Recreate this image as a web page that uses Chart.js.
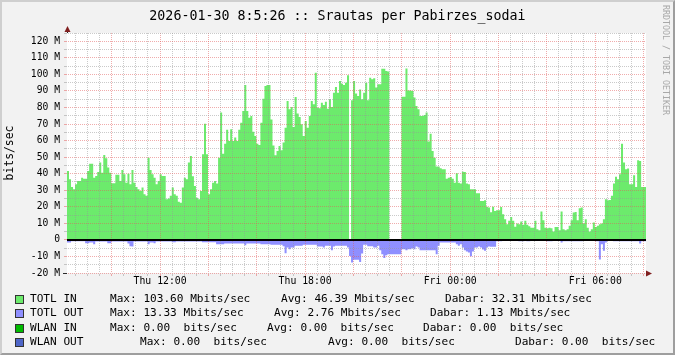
<!DOCTYPE html>
<html><head><meta charset="utf-8">
<script src="https://cdn.jsdelivr.net/npm/chart.js@4.4.1/dist/chart.umd.min.js"></script>
<style>
html,body{margin:0;padding:0;background:#f2f2f2;}
#wrap{position:relative;width:675px;height:355px;overflow:hidden;font-family:"DejaVu Sans Mono",monospace;color:#000;background:#f2f2f2;}
#c{position:absolute;left:0;top:0;}
.t{position:absolute;white-space:pre;}
#title{left:0;width:675px;text-align:center;top:8px;font-size:13.3px;line-height:16px;}
#mark{left:661px;top:5px;writing-mode:vertical-rl;font-size:8.3px;line-height:10px;color:#a8a8a8;}
.sw{position:absolute;width:7px;height:7px;border:1px solid #333;}
.lg{position:absolute;white-space:pre;font-size:11.1px;line-height:14px;}
#frame{position:absolute;left:0;top:0;width:675px;height:355px;box-sizing:border-box;border:2px solid;border-color:#cfcfcf #9e9e9e #9e9e9e #cfcfcf;pointer-events:none;}
</style></head><body>
<div id="wrap">
<canvas id="c" width="675" height="355"></canvas>
<div id="title" class="t">2026-01-30 8:5:26 :: Srautas per Pabirzes_sodai</div>
<div id="mark" class="t">RRDTOOL / TOBI OETIKER</div>
<div id="legend"></div>
<div id="frame"></div>
</div>
<script>
// ---- data (Mbit/s, 5-minute samples starting Thu 08:09) ----
const START_HOUR = 8.15;
const STEP_MINUTES = 5;
const X_MIN = 8.15, X_MAX = 32.1;

const totlIn = [
53,41.6,36.6,32,30.6,33.6,35.6,35.6,37.6,37,
37,41.6,46,46,37.6,38.6,41,46.7,40.6,51.3,
49.3,43.7,40.6,34.2,34.2,39.4,39.4,35.6,42.3,39.6,
34.6,40,33.6,42.3,34.6,32,30.6,29.6,31.6,27.6,
26.6,49.7,42.3,39.6,37.6,33.6,35.6,39.6,38.6,38.6,
24.5,25,26.6,31.6,27.6,26.6,23,22.5,31.6,37.6,
36.6,46.7,50.7,38.4,32.6,25.5,24.5,29.6,51.7,70.2,
51.7,27.6,
30.6,34.6,35.6,34,49.7,76.9,52.1,58.1,66.6,59.8,
66.8,59.8,61.8,59.8,66.6,70.8,77.9,93.6,77.9,73.8,
74.8,65.4,62.8,58.1,57.3,70.8,85.3,93,93.6,93.6,
72.8,57.1,51.1,53.7,56.7,54.1,58.8,67.8,83.9,78.9,
80.3,68.2,86.3,76.3,74.2,69.8,62.8,71.8,67.8,74.8,
83.9,81.9,101,79.9,79.5,82.9,81.5,83.5,79.3,84.9,
80.3,88.9,92.4,88.9,96,94.4,93.6,95,99.5,0,
84.3,96,88.5,86.9,90.9,84.9,88.9,95,84.3,98,
97,97.6,92,94,94,103.4,103.4,102,101.8,0,
0,0,0,0,0,86.5,86.5,103.6,90.3,90.3,
89.9,86,80.9,78.9,74.8,74.8,75.5,76.9,59.4,64.2,
53.7,49.7,44.3,44.3,43.3,42.7,42.7,37,37.6,38,
37,34.6,40.2,34.6,34,41.2,41,34,33.6,30.6,
30.6,30.6,28.2,28.2,23.5,23.5,23.9,20.1,19.5,16.7,
20,17.5,
17.9,17.9,19.9,15.5,12.5,9.5,11.5,13.9,11.5,8,
9.9,9.5,11.1,9.1,11.5,9.1,8.2,7.4,7.4,11.5,
6.4,5.8,17.1,11.9,7.4,7,7.4,7,5,7.8,
7.8,5.8,17.1,6.4,5.8,6.4,8.5,11.9,16.5,16.9,
11.9,19.1,19.5,9.9,12.5,7.4,5,6.4,10.5,7.8,
8.5,9.5,9.9,12.5,24.5,23.9,24.1,26.6,34,38.2,
36.6,39.6,58.1,46.7,42.7,43.1,33.6,33.6,39,32,
48.1,47.7,32,32
];

const totlOut = [
-1,-1.6,-1.6,-0.8,-0.8,-0.8,-0.8,-0.8,-0.8,-0.8,
-2,-2,-1.6,-1.6,-2.6,-1,-1,-1,-1,-1,
-1,-2,-2,-1,-1,-1,-1,-1,-1,-1,
-1,-2.2,-3.8,-4,-1,-1,-1,-1,-1,-1,
-1,-2.6,-1.6,-1.6,-2,-1,-1,-1,-1,-1,
-1,-1,-1,-1.4,-1.4,-1,-1,-1,-1,-1,
-1,-1,-1,-1,-1,-1,-1,-1,-1.4,-1.4,
-1.4,-1.4,
-1.4,-1.4,-1.4,-2.6,-2.6,-2.6,-2.6,-2.2,-2.2,-2.2,
-2.2,-2.2,-2.2,-2.2,-2.2,-2.2,-2.2,-3.2,-2.2,-2.2,
-2.2,-2.2,-2.2,-2.2,-2.2,-2.6,-2.6,-2.6,-2.6,-2.6,
-3,-3,-3,-3,-3,-3,-3.8,-8,-4.6,-5.6,
-4.6,-4.6,-3.6,-3.6,-3.6,-3.6,-3,-3,-3,-3,
-3,-3,-3,-4,-4,-4,-4.6,-3.6,-3.6,-3.6,
-6.2,-4,-3.6,-3.6,-3.6,-3.6,-3.6,-3.6,-4.6,-9.7,
-13.7,-12,-12,-12,-13.3,-8.2,-3,-3,-3.8,-3.8,
-3.8,-4.6,-4.6,-3.6,-6.2,-8.6,-11,-9.3,-8.6,-8.6,
-8.6,-8.6,-8.6,-8.6,-8.6,-5.6,-5.6,-6.2,-5.6,-5.6,
-5,-5.6,-4,-4.6,-6.2,-6.2,-6.2,-6.2,-6.2,-6.2,
-6.2,-6.2,-8.6,-3.6,-1.6,-1.6,-1.6,-1.6,-1.6,-1.6,
-1.6,-1.6,-2.6,-3.6,-2.6,-4.6,-6.2,-7,-7.6,-9.9,
-7,-4.6,-4.6,-4,-4.6,-5.8,-6.6,-4.6,-4,-4.2,
-4.2,-4.2,
-0.8,-0.8,-0.8,-0.2,-0.2,-0.2,-0.2,-0.2,-0.2,-0.2,
-0.2,-0.8,-0.8,-0.8,-0.2,-0.8,-0.8,-0.2,-0.2,-0.2,
-0.2,-0.2,-0.2,-0.2,-0.2,-0.8,-0.8,-0.8,-0.3,-0.3,
-0.3,-0.3,-1.6,-0.8,-0.8,-0.8,-0.8,-0.8,-0.8,-0.8,
-0.8,-0.8,-0.8,-0.2,-0.2,-0.2,-0.2,-0.2,-0.2,-0.8,
-0.8,-11.9,-2.6,-6.6,-1.6,-0.3,-0.3,-0.3,-0.8,-0.8,
-0.8,-0.8,-0.8,-0.8,-0.8,-0.8,-0.8,-0.8,-0.8,-0.8,
-0.8,-2.2,-0.8,-0.8
];

const xLabelHours = [12, 18, 24, 30];
const xLabelTexts = ['Thu 12:00', 'Thu 18:00', 'Fri 00:00', 'Fri 06:00'];

const seriesNames = ['TOTL IN', 'TOTL OUT', 'WLAN IN', 'WLAN OUT'];
const seriesColors = ['#6ceb6c', '#8f8fff', '#00bb00', '#4f66c8'];
const maxTexts = ['103.60 Mbits/sec', '13.33 Mbits/sec', '0.00  bits/sec', '0.00  bits/sec'];
const avgTexts = ['46.39 Mbits/sec', '2.76 Mbits/sec', '0.00  bits/sec', '0.00  bits/sec'];
const curTexts = ['32.31 Mbits/sec', '1.13 Mbits/sec', '0.00  bits/sec', '0.00  bits/sec'];

// ---- layout / style ----
const MONO = '"DejaVu Sans Mono", monospace';
const MINOR = 'rgba(150,150,150,0.5)';
const MAJOR = 'rgba(225,90,90,0.5)';
const AXIS = '#2a2a2a';
const ARROW = '#801f1f';

// legend (HTML)
const legendCols = [[110, 281, 445], [110, 274, 430], [110, 267, 423], [140, 328, 515]];
const legendTop = [291.5, 306, 320.5, 335];
const lg = document.getElementById('legend');
seriesNames.forEach((n, i) => {
  const top = legendTop[i];
  const sw = document.createElement('div');
  sw.className = 'sw'; sw.style.left = '15px'; sw.style.top = (top + 3) + 'px';
  sw.style.background = seriesColors[i]; lg.appendChild(sw);
  const items = [[30, n], [legendCols[i][0], 'Max: ' + maxTexts[i]], [legendCols[i][1], 'Avg: ' + avgTexts[i]], [legendCols[i][2], 'Dabar: ' + curTexts[i]]];
  items.forEach(([x, txt]) => {
    const d = document.createElement('div');
    d.className = 'lg'; d.style.left = x + 'px'; d.style.top = top + 'px';
    d.textContent = txt; lg.appendChild(d);
  });
});

function toSteps(vals) {
  const step = STEP_MINUTES / 60;
  const pts = vals.map((v, i) => ({x: START_HOUR + i * step, y: v}));
  pts.push({x: START_HOUR + vals.length * step, y: vals[vals.length - 1]});
  return pts;
}

const plotBg = {
  id: 'plotBg',
  beforeDraw(chart) {
    const {ctx, chartArea: a} = chart;
    ctx.save(); ctx.fillStyle = '#ffffff';
    ctx.fillRect(a.left, a.top, a.right - a.left, a.bottom - a.top);
    ctx.restore();
  }
};
const rrdDeco = {
  id: 'rrdDeco',
  afterDraw(chart) {
    const {ctx, chartArea: a} = chart;
    const y0 = chart.scales.y.getPixelForValue(0);
    ctx.save();
    ctx.fillStyle = '#000';
    ctx.fillRect(a.left, Math.round(y0) - 1, a.right - a.left, 2);
    ctx.strokeStyle = AXIS; ctx.lineWidth = 1;
    ctx.beginPath();
    ctx.moveTo(a.left + 0.5, a.top); ctx.lineTo(a.left + 0.5, a.top - 3);
    ctx.moveTo(a.left - 4, a.bottom + 0.5); ctx.lineTo(a.left, a.bottom + 0.5);
    ctx.moveTo(a.right, a.bottom + 0.5); ctx.lineTo(a.right + 2, a.bottom + 0.5);
    ctx.stroke();
    ctx.fillStyle = ARROW;
    ctx.beginPath();
    ctx.moveTo(a.left + 0.5, a.top - 7);
    ctx.lineTo(a.left - 2.5, a.top - 1);
    ctx.lineTo(a.left + 3.5, a.top - 1);
    ctx.closePath(); ctx.fill();
    ctx.beginPath();
    ctx.moveTo(a.right + 6, a.bottom + 0.5);
    ctx.lineTo(a.right, a.bottom - 2.5);
    ctx.lineTo(a.right, a.bottom + 3.5);
    ctx.closePath(); ctx.fill();
    ctx.restore();
  }
};

new Chart(document.getElementById('c'), {
  type: 'line',
  data: {
    datasets: [
      {label: 'TOTL IN', data: toSteps(totlIn), stepped: 'after', fill: 'origin',
       backgroundColor: seriesColors[0], borderWidth: 0, pointRadius: 0},
      {label: 'TOTL OUT', data: toSteps(totlOut), stepped: 'after', fill: 'origin',
       backgroundColor: seriesColors[1], borderWidth: 0, pointRadius: 0}
    ]
  },
  options: {
    responsive: false, animation: false, events: [],
    layout: {padding: {left: 3, top: 33, right: 29, bottom: 62}},
    plugins: {legend: {display: false}, tooltip: {enabled: false}, title: {display: false}},
    scales: {
      x: {
        type: 'linear', min: X_MIN, max: X_MAX,
        afterFit(s) { s.height = 20; },
        afterBuildTicks(s) {
          const t = [];
          for (let h = Math.ceil(X_MIN * 2) / 2; h <= X_MAX + 1e-9; h += 0.5) t.push({value: h});
          s.ticks = t;
        },
        ticks: {
          autoSkip: false, maxRotation: 0, padding: 0, color: '#000',
          font: {family: MONO, size: 9.8},
          callback(v) { const i = xLabelHours.indexOf(v); return i >= 0 ? xLabelTexts[i] : ''; }
        },
        grid: {
          z: 1, lineWidth: 1, tickLength: 3,
          color(c) { return c.tick && c.tick.value % 2 === 0 ? MAJOR : MINOR; },
          tickColor(c) { return c.tick && c.tick.value % 2 === 0 ? MAJOR : MINOR; }
        },
        border: {display: true, color: AXIS, width: 1, dash: [1, 1]}
      },
      y: {
        type: 'linear', min: -20, max: 125,
        afterFit(s) { s.width = 64; },
        ticks: {
          stepSize: 5, autoSkip: false, padding: 4, color: '#000',
          font: {family: MONO, size: 9.7},
          callback(v) { if (v % 10 !== 0) return ''; return v === 0 ? '0' : v + ' M'; }
        },
        grid: {
          z: 1, lineWidth: 1, tickLength: 3,
          color(c) { const v = c.tick ? c.tick.value : 1; if (v === 0) return 'rgba(0,0,0,0)'; return v % 10 === 0 ? MAJOR : MINOR; },
          tickColor(c) { const v = c.tick ? c.tick.value : 1; return v % 10 === 0 ? MAJOR : MINOR; }
        },
        border: {display: true, color: AXIS, width: 1, dash: [1, 1]},
        title: {display: true, text: 'bits/sec', color: '#000', padding: 0, font: {family: MONO, size: 11.4}}
      }
    }
  },
  plugins: [plotBg, rrdDeco]
});
</script>
</body></html>
